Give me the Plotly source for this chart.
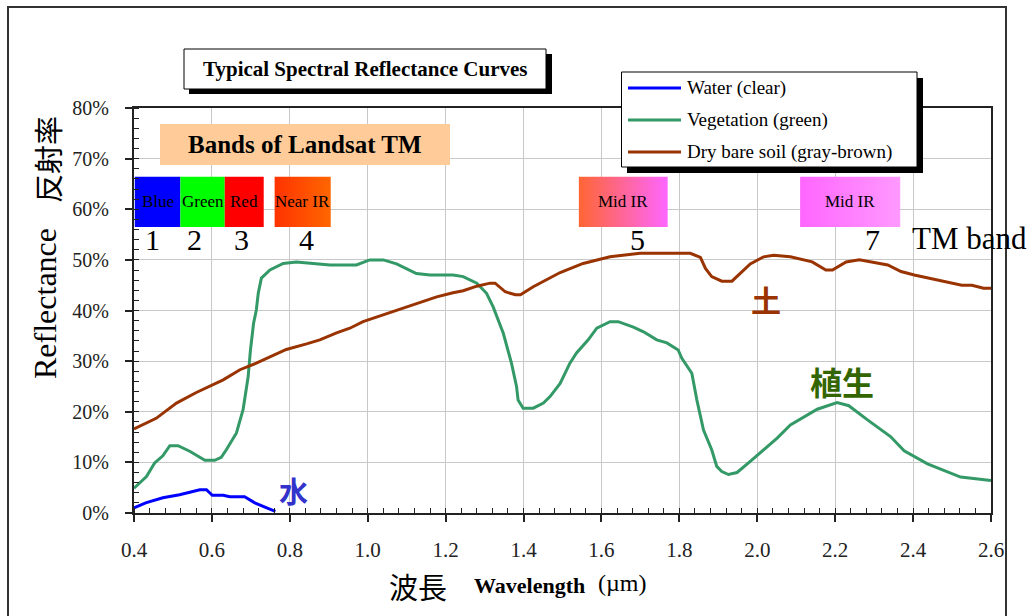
import plotly.graph_objects as go

# ---------------- data ----------------
wl_water = [0.40, 0.43, 0.474, 0.517, 0.569, 0.586, 0.601, 0.629, 0.646, 0.684, 0.71, 0.763]
r_water = [1.0, 2.0, 3.0, 3.6, 4.6, 4.6, 3.5, 3.5, 3.2, 3.2, 2.0, 0.3]

wl_veg = [0.40, 0.432, 0.453, 0.474, 0.492, 0.513, 0.543, 0.564, 0.582, 0.607, 0.624, 0.637,
          0.663, 0.680, 0.693, 0.699, 0.707, 0.714, 0.719, 0.727, 0.749, 0.783, 0.817, 0.86,
          0.903, 0.971, 1.005, 1.04, 1.074, 1.125, 1.16, 1.219, 1.245, 1.28, 1.305, 1.322,
          1.348, 1.369, 1.382, 1.386, 1.399, 1.425, 1.451, 1.468, 1.494, 1.519, 1.536, 1.566,
          1.588, 1.622, 1.643, 1.682, 1.708, 1.742, 1.768, 1.797, 1.806, 1.832, 1.845, 1.862,
          1.883, 1.896, 1.909, 1.926, 1.948, 1.982, 2.025, 2.051, 2.085, 2.154, 2.205, 2.235,
          2.283, 2.342, 2.377, 2.437, 2.522, 2.60]
r_veg = [4.9, 7.2, 9.9, 11.3, 13.3, 13.3, 12.2, 11.3, 10.4, 10.4, 11.0, 12.5,
         15.8, 20.4, 26.9, 32.2, 37.5, 40.1, 43.4, 46.4, 48.0, 49.3, 49.6, 49.3,
         49.0, 49.0, 50.0, 50.0, 49.2, 47.3, 47.0, 47.0, 46.7, 45.4, 43.4, 40.7,
         35.5, 29.6, 25.0, 22.3, 20.7, 20.7, 21.7, 23.0, 25.6, 29.6, 31.6, 34.2,
         36.5, 37.8, 37.8, 36.7, 35.8, 34.2, 33.6, 32.2, 30.6, 27.6, 22.3, 16.4,
         12.5, 9.2, 8.2, 7.6, 8.0, 10.2, 13.1, 14.8, 17.4, 20.5, 21.8, 21.2,
         18.4, 15.1, 12.3, 9.7, 7.1, 6.4]

wl_soil = [0.40, 0.457, 0.509, 0.560, 0.629, 0.672, 0.714, 0.749, 0.791, 0.843, 0.877, 0.920,
           0.954, 0.988, 1.031, 1.074, 1.125, 1.177, 1.219, 1.245, 1.28, 1.314, 1.327, 1.353,
           1.379, 1.392, 1.425, 1.494, 1.553, 1.622, 1.699, 1.828, 1.854, 1.867, 1.883, 1.909,
           1.935, 1.956, 1.982, 2.016, 2.042, 2.085, 2.141, 2.176, 2.193, 2.228, 2.262, 2.335,
           2.369, 2.403, 2.455, 2.525, 2.551, 2.581, 2.60]
r_soil = [16.6, 18.7, 21.7, 23.8, 26.3, 28.3, 29.6, 30.8, 32.3, 33.4, 34.2, 35.6,
          36.5, 37.8, 38.9, 40.1, 41.4, 42.7, 43.5, 43.9, 44.8, 45.4, 45.4, 43.7,
          43.1, 43.1, 44.7, 47.5, 49.3, 50.6, 51.3, 51.3, 50.5, 48.3, 46.7, 45.8,
          45.8, 47.3, 49.2, 50.6, 50.9, 50.6, 49.6, 48.0, 48.0, 49.6, 50.0, 49.0,
          47.7, 47.0, 46.2, 45.0, 45.0, 44.4, 44.4]

series_names = ["Water (clear)", "Vegetation (green)", "Dry bare soil (gray-brown)"]
series_colors = ["#0000FF", "#339966", "#993300"]

band_labels = ["Blue", "Green", "Red", "Near IR", "Mid IR", "Mid IR"]
band_numbers = ["1", "2", "3", "4", "5", "7"]
band_start = [0.402, 0.519, 0.633, 0.761, 1.542, 2.110]
band_end = [0.519, 0.633, 0.733, 0.905, 1.770, 2.367]
band_number_x = [0.448, 0.556, 0.677, 0.844, 1.692, 2.295]
band_color_left = ["#0000FF", "#00FF00", "#FF0000", "#FF3300", "#FF6633", "#FF66FF"]
band_color_right = ["#0000FF", "#00FF00", "#FF0000", "#FF6600", "#FF66FF", "#FF99FF"]

x_ticks = [0.4, 0.6, 0.8, 1.0, 1.2, 1.4, 1.6, 1.8, 2.0, 2.2, 2.4, 2.6]
y_ticks = [0, 10, 20, 30, 40, 50, 60, 70, 80]

# ---------------- layout helpers (pixel -> paper) ----------------
W, H = 1029, 616
L, R, T, B = 134, 38, 108, 103
PW, PH = W - L - R, H - T - B


def px(x):
    return (x - L) / PW


def py(y):
    return (H - B - y) / PH


SERIF = "Liberation Serif, Times New Roman, serif"
CJK = "Noto Sans CJK JP, Noto Sans CJK SC, sans-serif"

fig = go.Figure()

# band boxes
BOX_Y0, BOX_Y1 = 56.5, 66.4
for i in range(len(band_labels)):
    x0, x1 = band_start[i], band_end[i]
    fig.add_trace(go.Scatter(
        x=[x0, x1, x1, x0, x0], y=[BOX_Y0, BOX_Y0, BOX_Y1, BOX_Y1, BOX_Y0],
        mode="lines", line=dict(width=0), fill="toself",
        fillgradient=dict(type="horizontal",
                          colorscale=[[0, band_color_left[i]], [1, band_color_right[i]]]),
        hoverinfo="skip", showlegend=False))

# curves
for wl, r, name, col in zip([wl_water, wl_veg, wl_soil], [r_water, r_veg, r_soil],
                            series_names, series_colors):
    fig.add_trace(go.Scatter(x=wl, y=r, mode="lines", name=name,
                             line=dict(color=col, width=3), showlegend=False))

shapes = []
annotations = []

# outer frame
shapes.append(dict(type="rect", xref="paper", yref="paper",
                   x0=px(8), x1=px(1006), y0=py(640), y1=py(7),
                   line=dict(color="#333333", width=2), fillcolor="rgba(0,0,0,0)", layer="above"))

# title box with shadow
shapes.append(dict(type="rect", xref="paper", yref="paper",
                   x0=px(189), x1=px(552), y0=py(94), y1=py(54),
                   line=dict(width=0), fillcolor="black", layer="above"))
shapes.append(dict(type="rect", xref="paper", yref="paper",
                   x0=px(184), x1=px(546), y0=py(89), y1=py(49),
                   line=dict(color="black", width=1), fillcolor="white", layer="above"))
annotations.append(dict(xref="paper", yref="paper", x=px(365), y=py(69),
                        text="<b>Typical Spectral Reflectance Curves</b>", showarrow=False,
                        font=dict(family=SERIF, size=21, color="black"),
                        xanchor="center", yanchor="middle"))

# legend box with shadow
shapes.append(dict(type="rect", xref="paper", yref="paper",
                   x0=px(627), x1=px(923), y0=py(173), y1=py(78),
                   line=dict(width=0), fillcolor="black", layer="above"))
shapes.append(dict(type="rect", xref="paper", yref="paper",
                   x0=px(621.5), x1=px(917), y0=py(167), y1=py(72),
                   line=dict(color="black", width=1), fillcolor="white", layer="above"))
for k, (name, col) in enumerate(zip(series_names, series_colors)):
    yy = 88 + 32 * k
    shapes.append(dict(type="line", xref="paper", yref="paper",
                       x0=px(628), x1=px(681), y0=py(yy), y1=py(yy),
                       line=dict(color=col, width=3), layer="above"))
    annotations.append(dict(xref="paper", yref="paper", x=px(685), y=py(yy),
                            text=name, showarrow=False,
                            font=dict(family=SERIF, size=19, color="black"),
                            xanchor="left", yanchor="middle"))

# Bands of Landsat TM box
shapes.append(dict(type="rect", xref="paper", yref="paper",
                   x0=px(160), x1=px(450), y0=py(165), y1=py(124),
                   line=dict(width=0), fillcolor="#FFCC99", layer="above"))
annotations.append(dict(xref="paper", yref="paper", x=px(305), y=py(144),
                        text="<b>Bands of Landsat TM</b>", showarrow=False,
                        font=dict(family=SERIF, size=25, color="black"),
                        xanchor="center", yanchor="middle"))

# band labels and numbers
for i in range(len(band_labels)):
    annotations.append(dict(x=(band_start[i] + band_end[i]) / 2, y=(BOX_Y0 + BOX_Y1) / 2,
                            xref="x", yref="y", text=band_labels[i], showarrow=False,
                            font=dict(family=SERIF, size=17, color="black"),
                            xanchor="center", yanchor="middle"))
    annotations.append(dict(x=band_number_x[i], y=54.0, xref="x", yref="y",
                            text=band_numbers[i], showarrow=False,
                            font=dict(family=SERIF, size=30, color="black"),
                            xanchor="center", yanchor="middle"))
annotations.append(dict(xref="paper", yref="paper", x=px(910), y=py(239),
                        text="TM band", showarrow=False,
                        font=dict(family=SERIF, size=31, color="black"),
                        xanchor="left", yanchor="middle"))

# Chinese labels on curves
annotations.append(dict(xref="paper", yref="paper", x=px(293), y=py(490), text="<b>水</b>",
                        showarrow=False, font=dict(family=CJK, size=29, color="#3333CC"),
                        xanchor="center", yanchor="middle"))
annotations.append(dict(xref="paper", yref="paper", x=px(766), y=py(299), text="<b>土</b>",
                        showarrow=False, font=dict(family=CJK, size=30, color="#993300"),
                        xanchor="center", yanchor="middle"))
annotations.append(dict(xref="paper", yref="paper", x=px(842), y=py(381), text="<b>植生</b>",
                        showarrow=False, font=dict(family=CJK, size=32, color="#336600"),
                        xanchor="center", yanchor="middle"))

# axis titles
annotations.append(dict(xref="paper", yref="paper", x=px(45), y=py(304), text="Reflectance",
                        textangle=-90, showarrow=False,
                        font=dict(family=SERIF, size=32, color="black"),
                        xanchor="center", yanchor="middle"))
annotations.append(dict(xref="paper", yref="paper", x=px(47), y=py(160), text="反射率",
                        textangle=-90, showarrow=False,
                        font=dict(family=CJK, size=29, color="black"),
                        xanchor="center", yanchor="middle"))
annotations.append(dict(xref="paper", yref="paper", x=px(418), y=py(586), text="波長",
                        showarrow=False, font=dict(family=CJK, size=29, color="black"),
                        xanchor="center", yanchor="middle"))
annotations.append(dict(xref="paper", yref="paper", x=px(472), y=py(585), text="<b>Wavelength</b>",
                        showarrow=False, font=dict(family=SERIF, size=22, color="black"),
                        xanchor="left", yanchor="middle"))
annotations.append(dict(xref="paper", yref="paper", x=px(596), y=py(583), text="(µm)",
                        showarrow=False, font=dict(family=SERIF, size=24, color="black"),
                        xanchor="left", yanchor="middle"))

fig.update_layout(
    width=W, height=H,
    margin=dict(l=L, r=R, t=T, b=B, pad=0),
    paper_bgcolor="white", plot_bgcolor="white",
    showlegend=False,
    shapes=shapes, annotations=annotations,
    xaxis=dict(range=[0.4, 2.6], tickvals=x_ticks, ticktext=[f"{v:.1f}" for v in x_ticks],
               showgrid=True, gridcolor="#C8C8C8", gridwidth=1, zeroline=False,
               showline=True, linecolor="#222222", linewidth=2, mirror=True,
               ticks="outside", ticklen=7, tickwidth=1.5, tickcolor="#222222",
               minor=dict(dtick=0.04, ticks="inside", ticklen=5, tickwidth=1.2,
                          tickcolor="#222222", showgrid=False),
               tickfont=dict(family=SERIF, size=21, color="#222222"),
               ticklabelstandoff=10),
    yaxis=dict(range=[0, 80], tickvals=y_ticks, ticktext=[f"{v}%" for v in y_ticks],
               showgrid=True, gridcolor="#C8C8C8", gridwidth=1, zeroline=False,
               showline=True, linecolor="#222222", linewidth=2, mirror=True,
               ticks="outside", ticklen=7, tickwidth=1.5, tickcolor="#222222",
               minor=dict(dtick=2, ticks="inside", ticklen=5, tickwidth=1.2,
                          tickcolor="#222222", showgrid=False),
               tickfont=dict(family=SERIF, size=20, color="#222222"),
               ticklabelstandoff=12),
)

fig.write_html("out.html")
